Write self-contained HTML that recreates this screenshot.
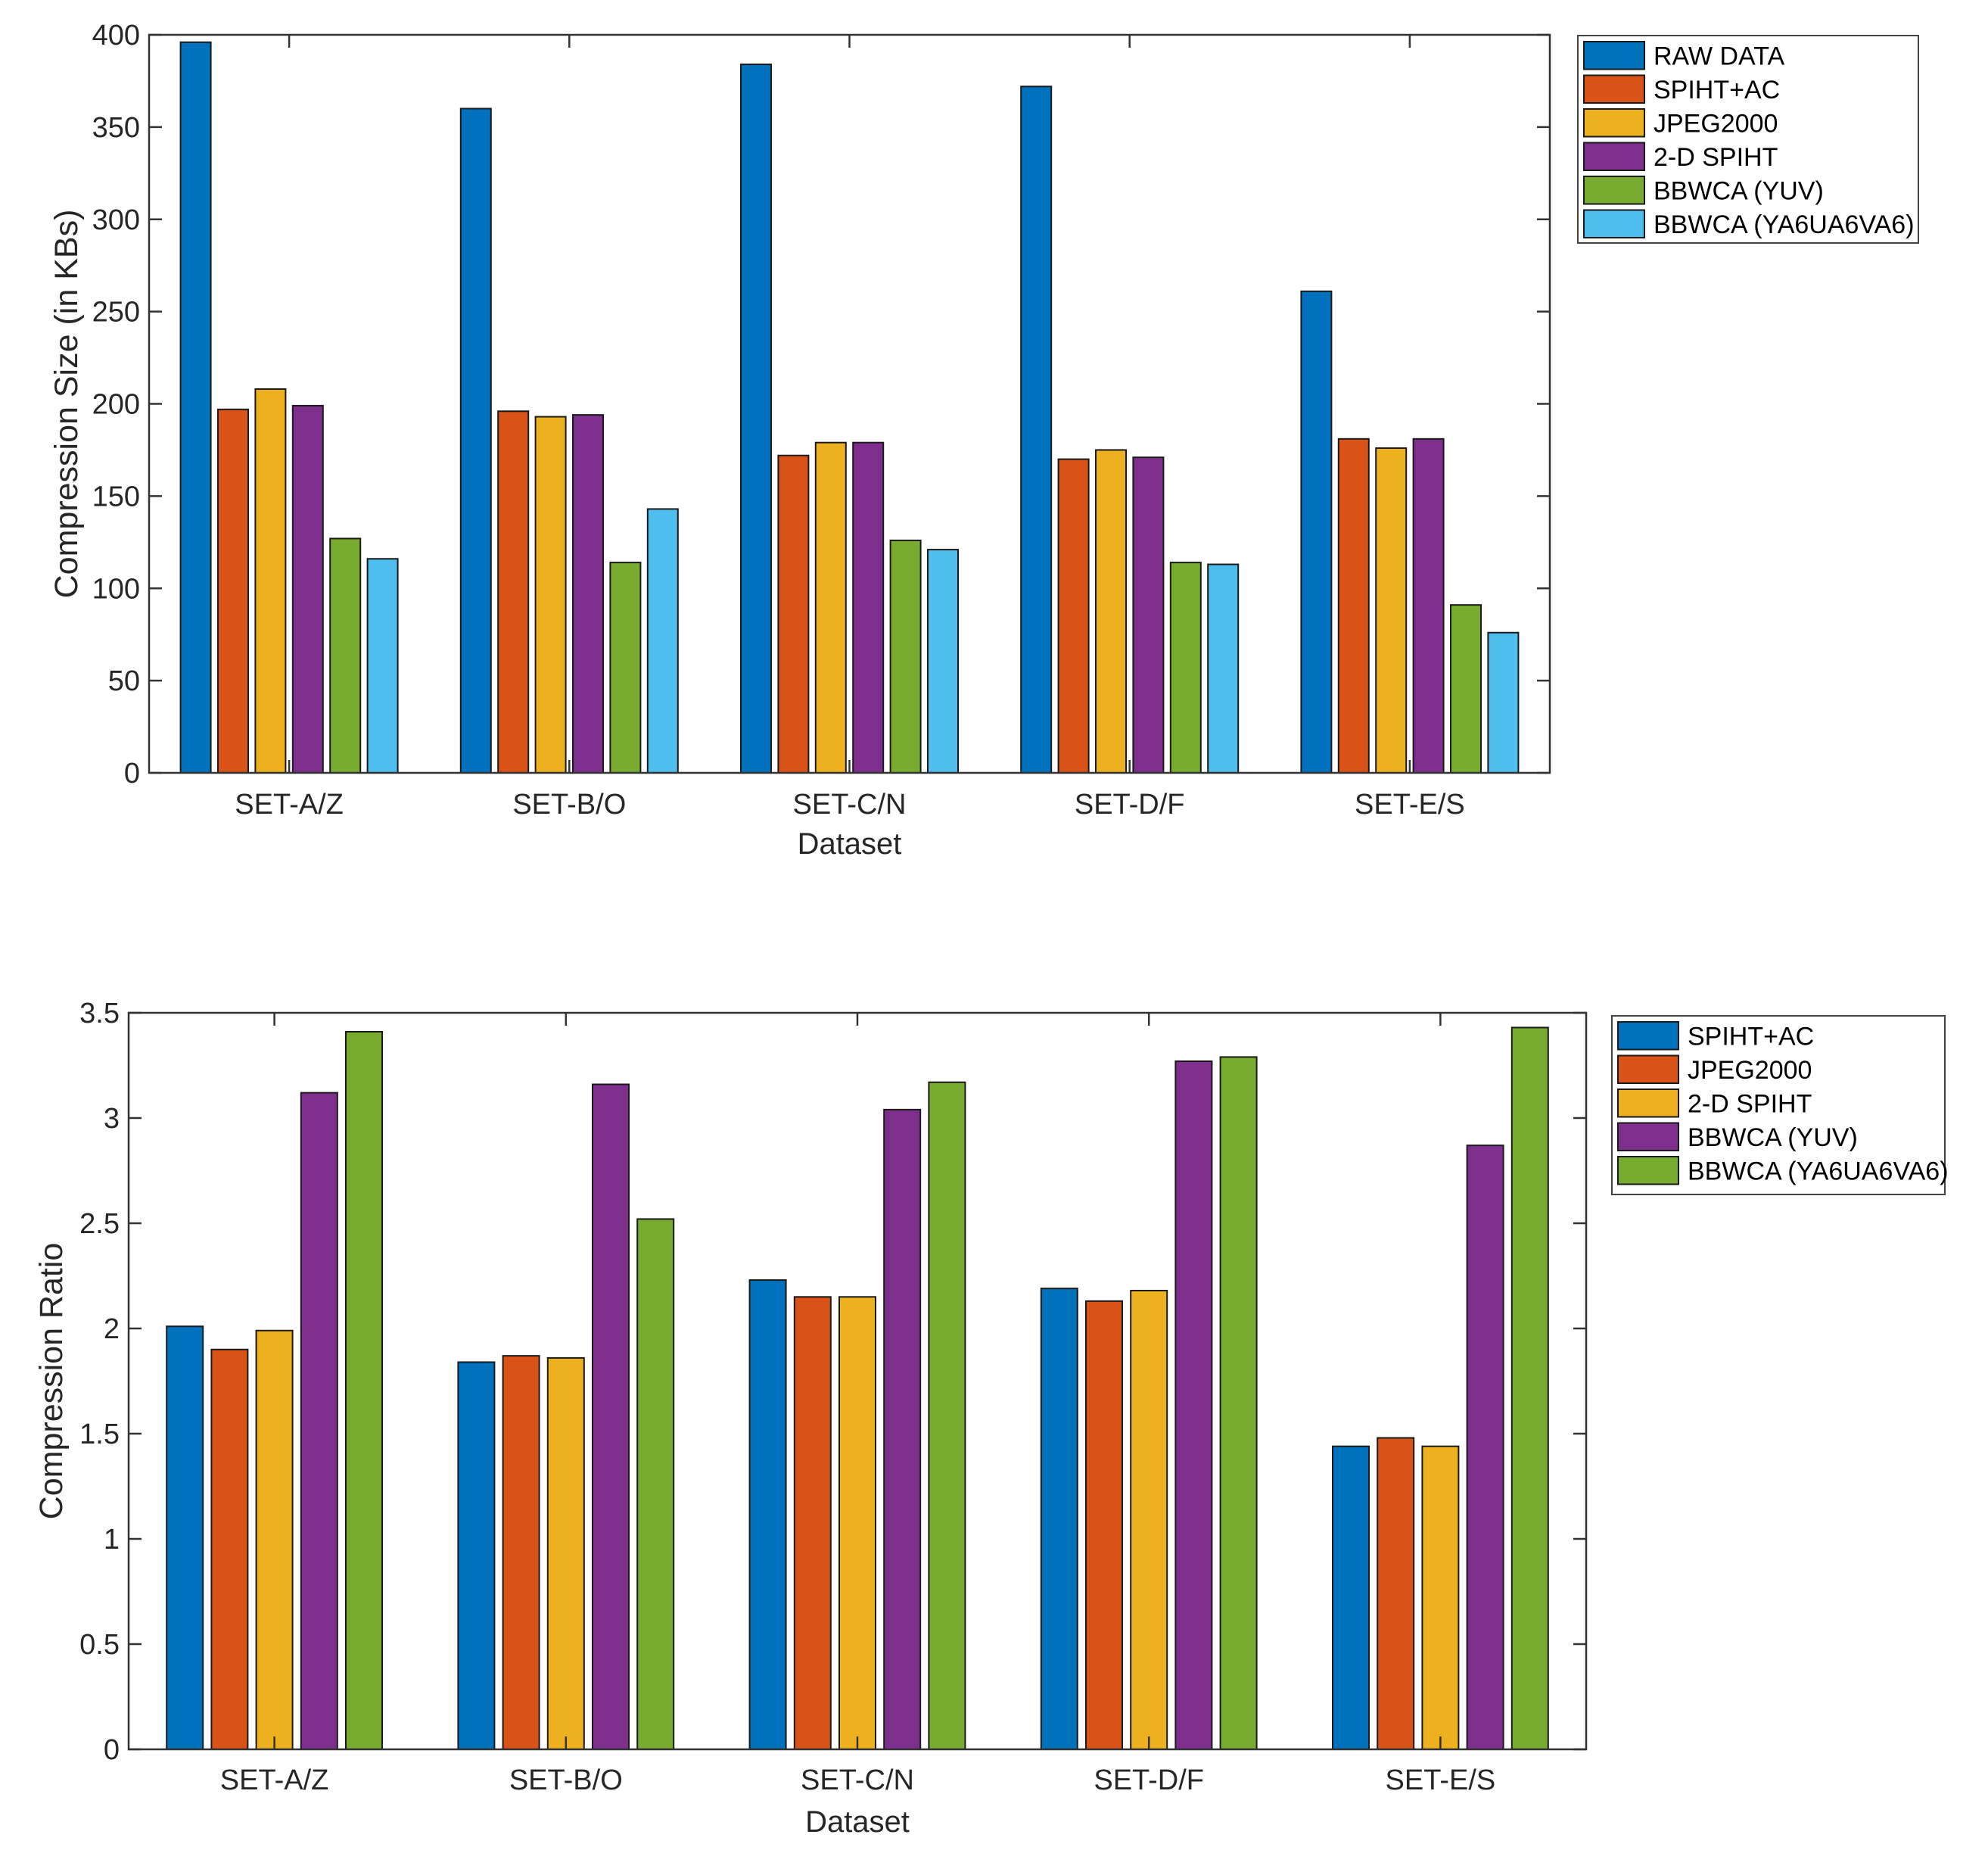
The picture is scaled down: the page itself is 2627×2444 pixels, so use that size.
<!DOCTYPE html>
<html><head><meta charset="utf-8"><style>
html,body{margin:0;padding:0;background:#fff;}
svg{display:block;font-family:"Liberation Sans",Arial,sans-serif;}
</style></head><body>
<svg id="fig" width="2627" height="2444" viewBox="0 0 2627 2444"></svg>
<script>
const categories = ["SET-A/Z","SET-B/O","SET-C/N","SET-D/F","SET-E/S"];
const sizeSeriesNames = ["RAW DATA","SPIHT+AC","JPEG2000","2-D SPIHT","BBWCA (YUV)","BBWCA (YA6UA6VA6)"];
const sizeRaw = [396,360,384,372,261];
const sizeSpihtAc = [197,196,172,170,181];
const sizeJpeg = [208,193,179,175,176];
const size2dSpiht = [199,194,179,171,181];
const sizeYuv = [127,114,126,114,91];
const sizeYa6 = [116,143,121,113,76];
const sizeTicks = [0,50,100,150,200,250,300,350,400];
const ratioSeriesNames = ["SPIHT+AC","JPEG2000","2-D SPIHT","BBWCA (YUV)","BBWCA (YA6UA6VA6)"];
const ratioSpihtAc = [2.01,1.84,2.23,2.19,1.44];
const ratioJpeg = [1.90,1.87,2.15,2.13,1.48];
const ratio2dSpiht = [1.99,1.86,2.15,2.18,1.44];
const ratioYuv = [3.12,3.16,3.04,3.27,2.87];
const ratioYa6 = [3.41,2.52,3.17,3.29,3.43];
const ratioTicks = [0,0.5,1,1.5,2,2.5,3,3.5];

const NS="http://www.w3.org/2000/svg";
const svg=document.getElementById('fig');
function mk(tag,attrs,parent,text){const e=document.createElementNS(NS,tag);for(const k in attrs)e.setAttribute(k,attrs[k]);if(text!==undefined)e.textContent=text;(parent||svg).appendChild(e);return e;}

function chart(o){
  const g=mk('g',{});
  
  
  const y=v=>o.bottom-(v-o.ymin)/(o.ymax-o.ymin)*(o.bottom-o.top);
  const spacing=(o.right-o.left)/categories.length;
  const cx=i=>o.left+spacing*(i+0.5);
  const n=o.series.length;
  o.series.forEach((s,si)=>{
    s.forEach((v,ci)=>{
      const c=cx(ci)+(si-(n-1)/2)*o.slot;
      const r=mk('rect',{x:c-o.bw/2,y:y(v),width:o.bw,height:y(0)-y(v),fill:o.colors[si],stroke:'#1a1a1a','stroke-width':2},g);
      
      
    });
  });
  const box=mk('rect',{x:o.left,y:o.top,width:o.right-o.left,height:o.bottom-o.top,fill:'none',stroke:'#333','stroke-width':2.5},g);
  
  
  o.ticks.forEach(t=>{
    const yy=y(t);
    mk('line',{x1:o.left,x2:o.left+17,y1:yy,y2:yy,stroke:'#333','stroke-width':2.5},g);
    mk('line',{x1:o.right,x2:o.right-17,y1:yy,y2:yy,stroke:'#333','stroke-width':2.5},g);
    const tl=mk('text',{x:o.left-12,y:yy+13,'text-anchor':'end','font-size':38,fill:'#262626'},g,String(t));
    
    
  });
  categories.forEach((c,i)=>{
    const xx=cx(i);
    mk('line',{x1:xx,x2:xx,y1:o.bottom,y2:o.bottom-17,stroke:'#333','stroke-width':2.5},g);
    mk('line',{x1:xx,x2:xx,y1:o.top,y2:o.top+17,stroke:'#333','stroke-width':2.5},g);
    const tl=mk('text',{x:xx,y:o.xlabY,'text-anchor':'middle','font-size':38,fill:'#262626'},g,c);
    
    
  });
  const xt=mk('text',{x:(o.left+o.right)/2,y:o.xtitleY,'text-anchor':'middle','font-size':40,fill:'#262626'},g,'Dataset');
  
  
  const yc=(o.top+o.bottom)/2;
  const yt=mk('text',{x:o.ytitleX,y:yc,'text-anchor':'middle','font-size':43,fill:'#262626',transform:`rotate(-90 ${o.ytitleX} ${yc})`},g,o.ytitle);
  
  
  const L=o.legend;
  const lg=mk('g',{},g);
  
  
  mk('rect',{x:L.x,y:L.y,width:L.w,height:L.h,fill:'#fff',stroke:'#444','stroke-width':2},lg);
  o.names.forEach((nm,i)=>{
    const ey=L.y+8+i*L.row;
    const e=mk('g',{},lg);
    
    
    mk('rect',{x:L.x+8,y:ey,width:80,height:L.row-8,fill:o.colors[i],stroke:'#1a1a1a','stroke-width':2},e);
    mk('text',{x:L.x+100,y:ey+L.row/2+8,'font-size':34,fill:'#000'},e,nm);
  });
}

const C=["#0072BD","#D95319","#EDB120","#7E2F8E","#77AC30","#4DBEEE"];
chart({name:'size-chart',short:'size',left:197,right:2048,top:46,bottom:1021,ymin:0,ymax:400,ticks:sizeTicks,
  series:[sizeRaw,sizeSpihtAc,sizeJpeg,size2dSpiht,sizeYuv,sizeYa6],colors:C,names:sizeSeriesNames,
  slot:49.4,bw:40,xlabY:1075,xtitleY:1128,ytitleX:102,ytitle:'Compression Size (in KBs)',
  legend:{x:2085,y:47,w:450,h:274,row:44.5}});
chart({name:'ratio-chart',short:'ratio',left:170,right:2096,top:1338,bottom:2311,ymin:0,ymax:3.5,ticks:ratioTicks,
  series:[ratioSpihtAc,ratioJpeg,ratio2dSpiht,ratioYuv,ratioYa6],colors:C.slice(0,5),names:ratioSeriesNames,
  slot:59.2,bw:48,xlabY:2364,xtitleY:2420,ytitleX:82,ytitle:'Compression Ratio',
  legend:{x:2130,y:1342,w:440,h:236,row:44.5}});
</script>
</body></html>
